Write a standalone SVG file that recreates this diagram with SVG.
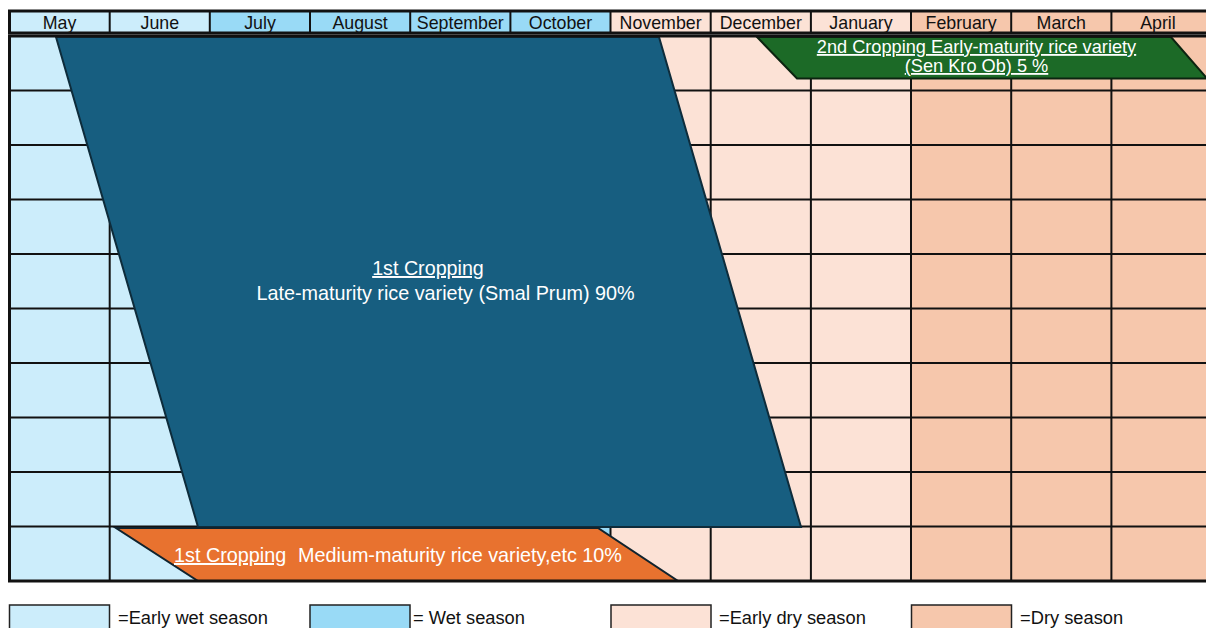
<svg xmlns="http://www.w3.org/2000/svg" width="1206" height="628" viewBox="0 0 1206 628">
<style>
.ew{fill:#CCEDFB}
.w{fill:#99DAF6}
.ed{fill:#FCE2D6}
.d{fill:#F6C7AC}
.hd{font-family:"Liberation Sans",Arial,sans-serif;font-size:17.8px;fill:#111;text-anchor:middle}
.grid{stroke:#111;stroke-width:2;fill:none}
.border{stroke:#111;stroke-width:3;fill:none}
.lbl{font-family:"Liberation Sans",Arial,sans-serif;fill:#fff}
.lg{font-family:"Liberation Sans",Arial,sans-serif;font-size:18.3px;fill:#111}
.lgbox{stroke:#222;stroke-width:1.5}
</style>
<rect width="1206" height="628" fill="#fff"/>
<g id="header">
<rect class="ew" x="9.5" y="11" width="200.3" height="22"/>
<rect class="w" x="209.8" y="11" width="400.7" height="22"/>
<rect class="ed" x="610.5" y="11" width="300.5" height="22"/>
<rect class="d" x="911" y="11" width="300" height="22"/>
<path class="grid" d="M109.7 11V33M209.8 11V33M310 11V33M410.2 11V33M510.4 11V33M610.5 11V33M710.7 11V33M810.9 11V33M911 11V33M1011.2 11V33M1111.4 11V33"/>
<path class="border" d="M1210 11H9.5V33H1210"/>
<text class="hd" x="59.6" y="28.5">May</text>
<text class="hd" x="159.8" y="28.5">June</text>
<text class="hd" x="260" y="28.5">July</text>
<text class="hd" x="360.1" y="28.5">August</text>
<text class="hd" x="460.3" y="28.5">September</text>
<text class="hd" x="560.5" y="28.5">October</text>
<text class="hd" x="660.6" y="28.5">November</text>
<text class="hd" x="760.8" y="28.5">December</text>
<text class="hd" x="861" y="28.5">January</text>
<text class="hd" x="961.1" y="28.5">February</text>
<text class="hd" x="1061.3" y="28.5">March</text>
<text class="hd" x="1158" y="28.5">April</text>
</g>
<g id="grid">
<rect class="ew" x="9.5" y="36" width="200.3" height="545"/>
<rect class="w" x="209.8" y="36" width="400.7" height="545"/>
<rect class="ed" x="610.5" y="36" width="300.5" height="545"/>
<rect class="d" x="911" y="36" width="300" height="545"/>
<path class="grid" d="M9.5 90.5H1210M9.5 145H1210M9.5 199.5H1210M9.5 254H1210M9.5 308.5H1210M9.5 363H1210M9.5 417.5H1210M9.5 472H1210M9.5 526.5H1210"/>
<path class="grid" d="M109.7 36V581M209.8 36V581M310 36V581M410.2 36V581M510.4 36V581M610.5 36V581M710.7 36V581M810.9 36V581M911 36V581M1011.2 36V581M1111.4 36V581"/>
</g>
<g id="late-maturity">
<polygon points="56,37 659,37 801,527 198,527" fill="#175E80" stroke="#0E2C3B" stroke-width="2"/>
<text class="lbl" x="428" y="275" font-size="19.7" text-anchor="middle" text-decoration="underline">1st Cropping</text>
<text class="lbl" x="445.5" y="300" font-size="19.8" text-anchor="middle">Late-maturity rice variety (Smal Prum) 90%</text>
</g>
<g id="medium-maturity">
<polygon points="116,528 598,528 678,581 198,581" fill="#E8722F" stroke="#10232E" stroke-width="2"/>
<text class="lbl" x="174" y="562" font-size="19.8" text-decoration="underline">1st Cropping</text>
<text class="lbl" x="298" y="562" font-size="19.8">Medium-maturity rice variety,etc 10%</text>
</g>
<g id="early-maturity">
<polygon points="757,37 1171,37 1207,78.5 797,78.5" fill="#1C6A27" stroke="#0C2410" stroke-width="2"/>
<text class="lbl" x="976.5" y="53" font-size="18.2" text-anchor="middle" text-decoration="underline">2nd Cropping Early-maturity rice variety</text>
<text class="lbl" x="976.5" y="72" font-size="18.2" text-anchor="middle" text-decoration="underline">(Sen Kro Ob) 5 %</text>
</g>
<g id="table-border">
<path class="border" d="M1210 36H9.5V581H1210"/>
</g>
<g id="legend">
<rect class="ew lgbox" x="9.5" y="605" width="100" height="30"/>
<text class="lg" x="118" y="623.5">=Early wet season</text>
<rect class="w lgbox" x="310" y="605" width="100" height="30"/>
<text class="lg" x="413" y="623.5">= Wet season</text>
<rect class="ed lgbox" x="611" y="605" width="100" height="30"/>
<text class="lg" x="719" y="623.5">=Early dry season</text>
<rect class="d lgbox" x="911.5" y="605" width="100" height="30"/>
<text class="lg" x="1020" y="623.5">=Dry season</text>
</g>
</svg>
